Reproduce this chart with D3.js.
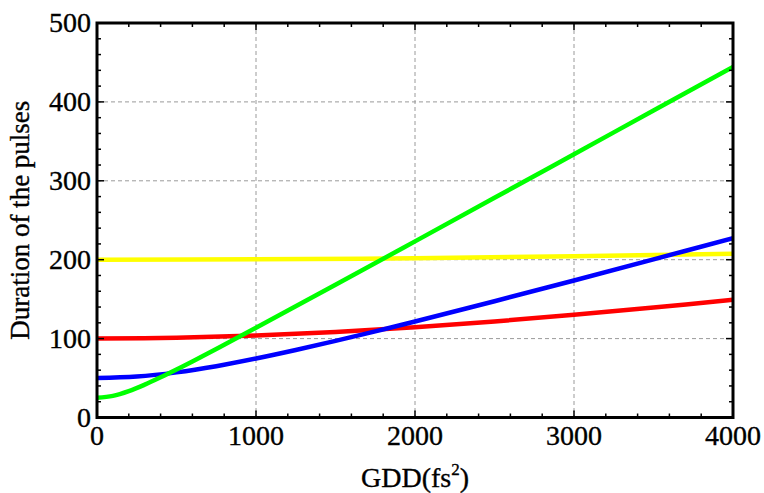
<!DOCTYPE html>
<html><head><meta charset="utf-8">
<script src="https://cdn.jsdelivr.net/npm/d3@7"></script>
<style>body{margin:0;background:#fff;} text{font-family:"Liberation Serif","Times New Roman",serif;fill:#000;stroke:#000;stroke-width:0.35px;}</style>
</head><body>
<svg id="c" width="764" height="493"></svg>
<script>
// GDD (fs^2) sample positions and pulse durations
const gddGreen = [0,100,200,300,400,500,600,750,800,1000,1500,2000,2500,3000,3500,4000];
const durGreen = [25,27.4,33.4,41.6,50.9,60.8,71.1,86.9,92.2,113.7,168.2,223.2,278.4,333.7,389.0,444.3];
const gddBlue = [0,250,500,750,1000,1250,1500,1750,2000,2500,3000,3500,4000];
const durBlue = [50,51.9,57.2,65.0,74.7,85.5,97.1,109.2,121.7,147.4,173.7,200.4,227.4];
const gddRed = [0,500,1000,1500,2000,2500,3000,3500,4000];
const durRed = [100,101.0,103.8,108.3,114.4,121.7,130.1,139.3,149.3];
const gddYellow = [0,1000,2000,3000,4000];
const durYellow = [200,200.5,201.9,204.3,207.5];
const xTicks = [0,1000,2000,3000,4000];
const yTicks = [0,100,200,300,400,500];
const xTitle = "GDD(fs";
const yTitle = "Duration of the pulses";

const series = [
  {x: gddYellow, y: durYellow, color: "#ffff00"},
  {x: gddRed, y: durRed, color: "#ff0000"},
  {x: gddBlue, y: durBlue, color: "#0000ff"},
  {x: gddGreen, y: durGreen, color: "#00ff00"}
];

const L = 97, R = 733, T = 23, B = 417.5;
const svg = d3.select("#c");
const x = d3.scaleLinear().domain([0,4000]).range([L,R]);
const y = d3.scaleLinear().domain([0,500]).range([B,T]);

// grid
const grid = svg.append("g").attr("stroke","#9a9a9a").attr("stroke-width",1).attr("stroke-dasharray","4,3");
grid.selectAll("line.v").data([1000,2000,3000]).join("line")
  .attr("x1",d=>x(d)).attr("x2",d=>x(d)).attr("y1",T).attr("y2",B);
grid.selectAll("line.h").data([100,200,300,400]).join("line")
  .attr("y1",d=>y(d)).attr("y2",d=>y(d)).attr("x1",L).attr("x2",R);

// curves
svg.append("clipPath").attr("id","cp").append("rect")
  .attr("x",L).attr("y",T).attr("width",R-L).attr("height",B-T);
const line = d3.line().curve(d3.curveCatmullRom.alpha(0.5));
const cg = svg.append("g").attr("clip-path","url(#cp)");
series.forEach(s=>{
  const pts = s.x.map((v,i)=>[x(v), y(s.y[i])]);
  cg.append("path").attr("d", line(pts)).attr("fill","none")
    .attr("stroke", s.color).attr("stroke-width",4.5).attr("stroke-linejoin","round");
});

// ticks (inward) on all four sides
const tk = svg.append("g").attr("stroke","#000").attr("stroke-width",1.5);
const xMinor = d3.range(0,4001,200);
const yMinor = d3.range(0,501,20);
xMinor.forEach(v=>{
  const len = v%1000===0 ? 7 : 4;
  tk.append("line").attr("x1",x(v)).attr("x2",x(v)).attr("y1",B).attr("y2",B-len);
  tk.append("line").attr("x1",x(v)).attr("x2",x(v)).attr("y1",T).attr("y2",T+len);
});
yMinor.forEach(v=>{
  const len = v%100===0 ? 7 : 4;
  tk.append("line").attr("y1",y(v)).attr("y2",y(v)).attr("x1",L).attr("x2",L+len);
  tk.append("line").attr("y1",y(v)).attr("y2",y(v)).attr("x1",R).attr("x2",R-len);
});

// frame
svg.append("rect").attr("x",L).attr("y",T).attr("width",R-L).attr("height",B-T)
  .attr("fill","none").attr("stroke","#000").attr("stroke-width",3);

// tick labels
svg.append("g").selectAll("text").data(xTicks).join("text")
  .attr("x",d=>x(d)).attr("y",445).attr("text-anchor","middle")
  .attr("font-size",28).text(d=>d);
svg.append("g").selectAll("text").data(yTicks).join("text")
  .attr("x",91).attr("y",d=>y(d)+9).attr("text-anchor","end")
  .attr("font-size",28).text(d=>d);

// axis titles
const xt = svg.append("text").attr("x",(L+R)/2).attr("y",487).attr("text-anchor","middle").attr("font-size",28);
xt.append("tspan").text(xTitle);
xt.append("tspan").attr("font-size",17).attr("dy",-12).text("2");
xt.append("tspan").attr("dy",12).text(")");
svg.append("text").attr("transform",`translate(29,${(T+B)/2}) rotate(-90)`)
  .attr("text-anchor","middle").attr("font-size",27).text(yTitle);
</script>
</body></html>
